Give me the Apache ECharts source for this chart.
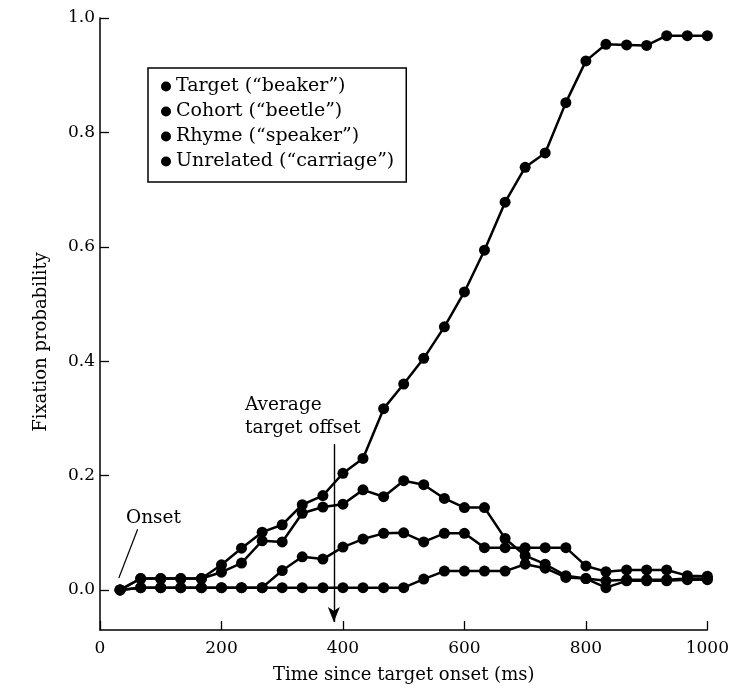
<!DOCTYPE html>
<html>
<head>
<meta charset="utf-8">
<script src="https://cdn.jsdelivr.net/npm/echarts@6/dist/echarts.min.js"></script>
<style>html,body{margin:0;padding:0;background:#fff;}#c{width:732px;height:689px;}</style>
</head>
<body>
<div id="c"></div>
<script>
// Time (ms) of each sample (30 frames, ~33 ms apart)
const times = [33,67,100,133,167,200,233,267,300,333,367,400,433,467,500,533,567,600,633,667,700,733,767,800,833,867,900,933,967,1000];
const seriesNames = ['Target (\u201Cbeaker\u201D)', 'Cohort (\u201Cbeetle\u201D)', 'Rhyme (\u201Cspeaker\u201D)', 'Unrelated (\u201Ccarriage\u201D)'];
const target    = [0.0,0.02,0.02,0.02,0.02,0.044,0.073,0.101,0.114,0.149,0.165,0.204,0.230,0.317,0.360,0.405,0.460,0.521,0.594,0.678,0.739,0.764,0.852,0.925,0.954,0.953,0.952,0.969,0.969,0.969];
const cohort    = [0.0,0.02,0.02,0.02,0.02,0.031,0.047,0.086,0.084,0.134,0.145,0.150,0.175,0.163,0.191,0.184,0.160,0.144,0.144,0.090,0.060,0.045,0.025,0.020,0.004,0.016,0.016,0.016,0.018,0.018];
const rhyme     = [0.0,0.004,0.004,0.004,0.004,0.004,0.004,0.004,0.034,0.058,0.054,0.075,0.089,0.099,0.100,0.084,0.099,0.099,0.074,0.074,0.074,0.074,0.074,0.042,0.032,0.035,0.035,0.035,0.025,0.024];
const unrelated = [0.0,0.004,0.004,0.004,0.004,0.004,0.004,0.004,0.004,0.004,0.004,0.004,0.004,0.004,0.004,0.019,0.033,0.033,0.033,0.033,0.045,0.038,0.022,0.020,0.016,0.018,0.018,0.018,0.020,0.020];
const xTicks = [0,200,400,600,800,1000];
const yTicks = [0,0.2,0.4,0.6,0.8,1.0];
const averageOffset = 385; // ms

const FONT = 'DejaVu Serif';
const chart = echarts.init(document.getElementById('c'), null, {renderer:'canvas'});
const allData = [target, cohort, rhyme, unrelated];
const series = allData.map((vals, i) => ({
  name: seriesNames[i],
  type: 'line',
  data: times.map((t, j) => [t, vals[j]]),
  symbol: 'circle',
  symbolSize: 11,
  showSymbol: true,
  lineStyle: {color:'#000', width:2.5},
  itemStyle: {color:'#000'},
  z: 3
}));
series[0].markLine = {
  silent: true,
  symbol: ['none','arrow'],
  symbolSize: [9, 15],
  label: {show:false},
  lineStyle: {color:'#000', width:1.4, type:'solid'},
  data: [
    [{coord:[averageOffset, 0.255]}, {coord:[averageOffset, -0.056]}]
  ]
};
series[1].markLine = {
  silent: true,
  symbol: ['none','none'],
  label: {show:false},
  lineStyle: {color:'#000', width:1.2, type:'solid'},
  data: [
    [{coord:[62, 0.106]}, {coord:[31, 0.021]}]
  ]
};

chart.setOption({
  animation: false,
  backgroundColor: '#fff',
  grid: {left:100, right:24, top:18, bottom:58, containLabel:false},
  xAxis: {
    type:'value', min:0, max:1000,
    name:'Time since target onset (ms)', nameLocation:'middle', nameGap:36,
    nameTextStyle:{fontFamily:FONT, fontSize:18, color:'#000'},
    axisLine:{show:true, onZero:false, lineStyle:{color:'#000', width:1.5}},
    axisTick:{show:true, inside:true, length:9, customValues:xTicks, lineStyle:{color:'#000', width:1.3}},
    axisLabel:{customValues:xTicks, margin:10, fontFamily:FONT, fontSize:17, color:'#000', formatter: v => String(v)},
    splitLine:{show:false}
  },
  yAxis: {
    type:'value', min:-0.07, max:1.0,
    name:'Fixation probability', nameLocation:'middle', nameGap:50,
    nameTextStyle:{fontFamily:FONT, fontSize:18, color:'#000', padding:[0,36,0,0]},
    axisLine:{show:true, onZero:false, lineStyle:{color:'#000', width:1.5}},
    axisTick:{show:true, inside:true, length:9, customValues:yTicks, lineStyle:{color:'#000', width:1.3}},
    axisLabel:{customValues:yTicks, margin:5, fontFamily:FONT, fontSize:17, color:'#000', formatter: v => v.toFixed(1)},
    splitLine:{show:false}
  },
  legend: {
    orient:'vertical', left:148, top:68,
    padding:[9,12,11,13], itemGap:6, itemWidth:10, itemHeight:10,
    icon:'circle', borderColor:'#000', borderWidth:1.5, backgroundColor:'#fff',
    textStyle:{fontFamily:FONT, fontSize:19, color:'#000'},
    data: seriesNames
  },
  graphic: [
    {type:'text', left:126, top:509, style:{text:'Onset', fontFamily:FONT, fontSize:18.5, fill:'#000'}},
    {type:'text', left:245, top:394, style:{text:'Average\ntarget offset', fontFamily:FONT, fontSize:18.5, lineHeight:23, fill:'#000'}}
  ],
  series: series
});
</script>
</body>
</html>
